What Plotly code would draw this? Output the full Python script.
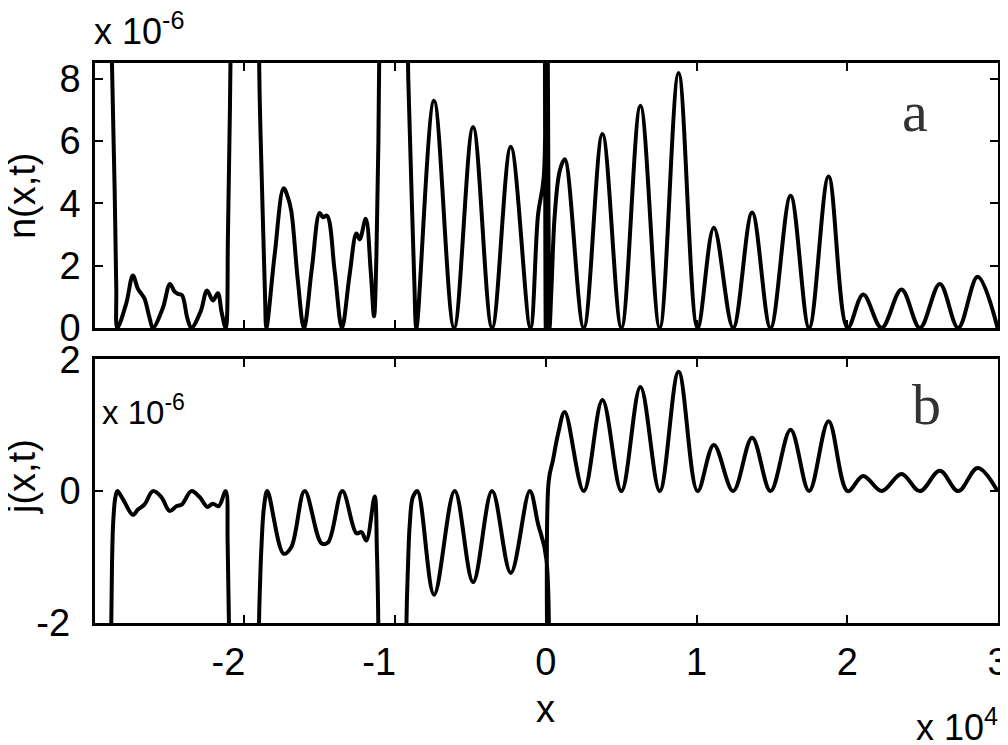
import plotly.graph_objects as go

# x in units of 1e4, n and j in units of 1e-6 (as labelled on the axes)
# None separates the pieces of the curve between the walls
n_x = [
    -2.892, -2.878, -2.860, -2.849, -2.842, -2.782, -2.739, -2.705, -2.683, -2.661, -2.628, -2.606,
    -2.540, -2.493, -2.462, -2.440, -2.413, -2.378, -2.351, -2.289, -2.247, -2.208, -2.175, -2.150,
    -2.123, -2.108, -2.095, -2.083, None,
    -1.912, -1.898, -1.876, -1.862, -1.853, -1.798, -1.739, -1.710, -1.688, -1.644, -1.604, -1.551,
    -1.500, -1.478, -1.451, -1.400, -1.352, -1.301, -1.256, -1.234, -1.194, -1.161, -1.139, -1.123,
    -1.110, -1.098, None,
    -0.925, -0.912, -0.891, -0.872, -0.858, -0.741, -0.608, -0.482, -0.356, -0.232, -0.102, -0.051,
    -0.013, -0.008, 0.000, 0.010, 0.018, 0.025, 0.038, 0.060, 0.093, 0.126, 0.252, 0.376, 0.502,
    0.628, 0.756, 0.881, 1.007, 1.115, 1.243, 1.369, 1.491, 1.624, 1.747, 1.876, 2.002, 2.106,
    2.228, 2.360, 2.482, 2.614, 2.736, 2.865, 2.997,
]
n_y = [
    14, 8.6, 4.5, 1.29, 0.0, 0.8, 1.68, 1.25, 1.10, 0.93, 0.32, 0.0,
    0.64, 1.41, 1.16, 1.09, 1.05, 0.32, 0.0, 0.53, 1.20, 0.88, 1.11, 0.5,
    0.0, 3.0, 7.0, 12, None,
    12, 7.5, 3.4, 1.0, 0.0, 2.36, 4.48, 4.18, 3.75, 1.5, 0.0, 1.93,
    3.69, 3.55, 3.60, 1.82, 0.0, 1.71, 3.03, 2.84, 3.50, 1.82, 0.37, 2.36,
    6.0, 12, None,
    12, 8.0, 4.5, 1.5, 0.0, 7.29, 0.0, 6.45, 0.0, 5.81, 0.0, 3.64,
    4.85, 12, 0.0, 12, 4.0, 0.0, 1.29, 3.64, 5.04, 5.41, 0.0, 6.22, 0.0,
    7.13, 0.0, 8.18, 0.0, 3.21, 0.0, 3.70, 0.0, 4.24, 0.0, 4.86, 0.0, 1.07,
    0.0, 1.23, 0.0, 1.41, 0.0, 1.64, 0.0,
]

j_x = [
    -2.890, -2.882, -2.876, -2.869, -2.856, -2.842, -2.805, -2.739, -2.705, -2.661, -2.606, -2.550,
    -2.495, -2.450, -2.413, -2.351, -2.296, -2.245, -2.208, -2.170, -2.123, -2.110, -2.098, -2.085,
    None,
    -1.912, -1.902, -1.895, -1.887, -1.869, -1.847, -1.739, -1.688, -1.599, -1.488, -1.444, -1.349,
    -1.256, -1.223, -1.190, -1.135, -1.120, -1.108, -1.095, None,
    -0.932, -0.924, -0.914, -0.902, -0.881, -0.851, -0.741, -0.604, -0.482, -0.356, -0.232, -0.106,
    -0.051, 0.004, 0.007, 0.015, 0.019, 0.048, 0.082, 0.126, 0.252, 0.376, 0.502, 0.628, 0.756,
    0.881, 1.007, 1.115, 1.243, 1.369, 1.491, 1.624, 1.747, 1.876, 2.002, 2.106, 2.228, 2.360,
    2.482, 2.614, 2.736, 2.865, 2.997,
]
j_y = [
    -10, -2.0, -0.97, -0.46, -0.11, 0.0, -0.12, -0.36, -0.28, -0.20, 0.0, -0.09,
    -0.30, -0.23, -0.20, 0.0, -0.09, -0.24, -0.19, -0.23, 0.0, -0.8, -2.5, -8,
    None,
    -10, -2.0, -1.4, -0.9, -0.24, 0.0, -0.95, -0.85, 0.0, -0.79, -0.78, 0.0,
    -0.64, -0.62, -0.75, -0.08, -0.9, -2.5, -10, None,
    -10, -2.0, -1.15, -0.5, -0.09, 0.0, -1.57, 0.0, -1.38, 0.0, -1.24, 0.0,
    -0.5, -1.03, -10, -10, 0.14, 0.47, 0.87, 1.20, 0.0, 1.38, 0.0, 1.58, 0.0,
    1.81, 0.0, 0.70, 0.0, 0.81, 0.0, 0.93, 0.0, 1.06, 0.0, 0.23, 0.0, 0.26,
    0.0, 0.31, 0.0, 0.35, 0.0,
]

x_ticks = [-2, -1, 0, 1, 2, 3]
x_ticklabels = ['-2', '-1', '0', '1', '2', '3']
n_ticks = [0, 2, 4, 6, 8]
j_ticks = [-2, 0, 2]
j_ticklabels = ['-2', '0', '2']

FONT = 'Liberation Sans, Arial, Helvetica, sans-serif'
SERIF = 'Liberation Serif, Times New Roman, serif'
NB = '\u00a0'  # negative labels sit a little left of their ticks in the original

fig = go.Figure()
fig.add_trace(go.Scatter(x=n_x, y=n_y, mode='lines', connectgaps=False,
                         line=dict(color='black', width=4, shape='spline'),
                         xaxis='x', yaxis='y', showlegend=False))
fig.add_trace(go.Scatter(x=j_x, y=j_y, mode='lines', connectgaps=False,
                         line=dict(color='black', width=4, shape='spline'),
                         xaxis='x2', yaxis='y2', showlegend=False))

ax = dict(showline=True, linecolor='black', linewidth=2.5, mirror='ticks',
          ticks='inside', ticklen=8, tickwidth=2, tickcolor='black',
          showgrid=False, zeroline=False, automargin=False, ticklabeloverflow='allow',
          tickfont=dict(family=FONT, size=38, color='black'))

# the page body has an 8px margin, so the figure is 8px smaller than the window
fig.update_layout(
    width=1000, height=737,
    margin=dict(l=87, r=10, t=55, b=122),
    paper_bgcolor='white', plot_bgcolor='white',
    xaxis=dict(ax, domain=[0, 1], range=[-2.99, 3.0], anchor='y',
               tickvals=x_ticks, showticklabels=False),
    yaxis=dict(ax, domain=[0.527, 1], range=[0, 8.5], anchor='x',
               tickvals=n_ticks, ticktext=[str(v) for v in n_ticks], ticklabelstandoff=4),
    xaxis2=dict(ax, domain=[0, 1], range=[-2.99, 3.0], anchor='y2', matches='x',
                tickvals=x_ticks,
                ticktext=[t + NB * 3 if t.startswith('-') else t for t in x_ticklabels],
                ticklabelstandoff=4),
    yaxis2=dict(ax, domain=[0, 0.471], range=[-2, 2], anchor='x2',
                tickvals=j_ticks,
                ticktext=[t + NB if t.startswith('-') else t for t in j_ticklabels],
                ticklabelstandoff=4),
)

txt = dict(xref='paper', yref='paper', showarrow=False, xanchor='center', yanchor='middle')
fig.add_annotation(txt, x=-0.0808, y=0.7625, text='n(x,t)', textangle=-90,
                   font=dict(family=FONT, size=38, color='black'))
fig.add_annotation(txt, x=-0.0808, y=0.2607, text='j(x,t)', textangle=-90,
                   font=dict(family=FONT, size=38, color='black'))
fig.add_annotation(txt, x=0.4994, y=-0.1536, text='x',
                   font=dict(family=FONT, size=38, color='black'))
fig.add_annotation(txt, x=1.0022, y=-0.183, xanchor='right', text='x 10<sup>4</sup>',
                   font=dict(family=FONT, size=36, color='black'))
fig.add_annotation(txt, x=-0.003, y=1.06, xanchor='left', text='x 10<sup>-6</sup>',
                   font=dict(family=FONT, size=36, color='black'))
fig.add_annotation(txt, x=0.0055, y=0.38, xanchor='left', text='x 10<sup>-6</sup>',
                   font=dict(family=FONT, size=33, color='black'))
fig.add_annotation(txt, x=0.908, y=0.914, text='a',
                   font=dict(family=SERIF, size=58, color='#333333'))
fig.add_annotation(txt, x=0.921, y=0.39, text='b',
                   font=dict(family=SERIF, size=58, color='#333333'))

fig.write_html("out.html")
